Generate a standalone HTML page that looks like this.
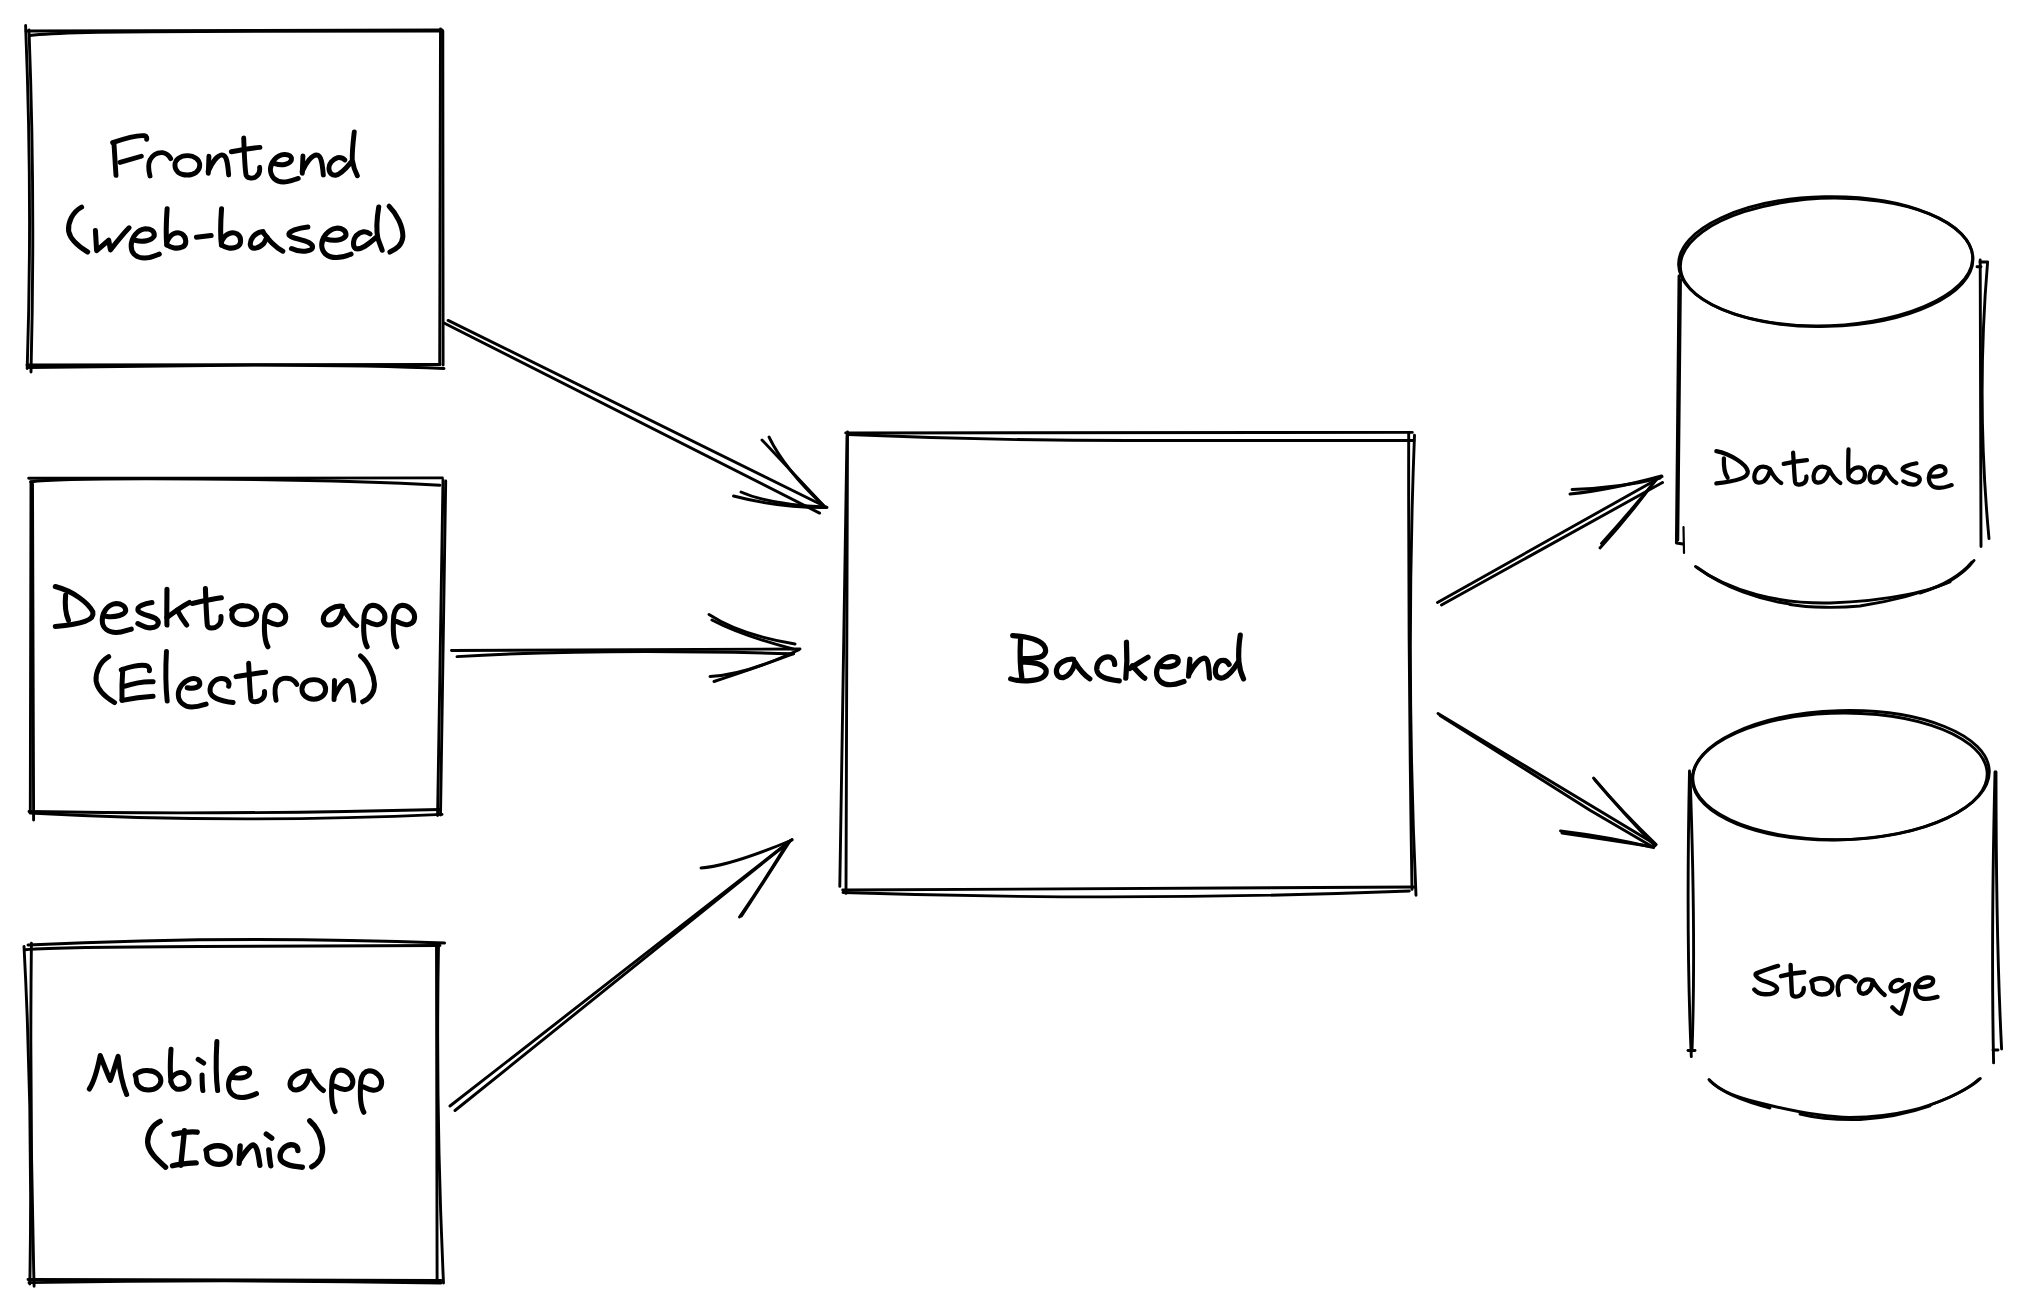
<!DOCTYPE html>
<html><head><meta charset="utf-8"><title>Architecture</title>
<style>
html,body{margin:0;padding:0;background:#fff;}
body{width:2026px;height:1311px;overflow:hidden;font-family:"Liberation Sans",sans-serif;}
svg{display:block;}
</style></head><body>
<svg width="2026" height="1311" viewBox="0 0 2026 1311">
<rect width="2026" height="1311" fill="#fff"/>
<g fill="none" stroke="#000" stroke-linecap="round" stroke-linejoin="round">
<path d="M26 31 L442 30" stroke-width="2.9"/>
<path d="M30 35.5 Q60 31.5 200 31.5 L440 31" stroke-width="2.9"/>
<path d="M25.6 25.5 Q32.6 200 27.2 368.5" stroke-width="2.9"/>
<path d="M29 30 Q35.4 200 31 372" stroke-width="2.9"/>
<path d="M440.5 29 L439.7 364.4" stroke-width="2.9"/>
<path d="M442.8 31 L443.1 365" stroke-width="2.9"/>
<path d="M27 365 L440 364.5" stroke-width="2.9"/>
<path d="M29 367.5 Q120 366 255 365 Q380 365.5 444 368.5" stroke-width="2.9"/>
<path d="M28.7 478.3 L442.4 477.9" stroke-width="2.9"/>
<path d="M30.6 481.8 Q60 478 200 479 Q350 480 440 485.2" stroke-width="2.9"/>
<path d="M31 482 L30.3 812" stroke-width="2.9"/>
<path d="M32.5 484 L33.6 820" stroke-width="2.9"/>
<path d="M443 480 L437.6 815.6" stroke-width="2.9"/>
<path d="M445.7 481 L440.5 815" stroke-width="2.9"/>
<path d="M29 811.5 Q220 815 440 809.5" stroke-width="2.9"/>
<path d="M30 813 Q230 824 442 814.4" stroke-width="2.9"/>
<path d="M28 945 Q230 935 444.6 943" stroke-width="2.9"/>
<path d="M25 949.7 Q60 947 200 946.5 L440 945.5" stroke-width="2.9"/>
<path d="M24 946.4 Q33 1115 29.8 1284" stroke-width="2.9"/>
<path d="M31.4 943.3 Q29.5 1115 34.1 1286.2" stroke-width="2.9"/>
<path d="M436.5 945 L437.1 1279" stroke-width="2.9"/>
<path d="M438.5 945 Q435.5 1110 443.5 1283" stroke-width="2.9"/>
<path d="M28 1279.5 L441 1280.5" stroke-width="2.9"/>
<path d="M29 1282.6 Q235 1279 441 1283" stroke-width="2.9"/>
<path d="M845.7 433 L1412.3 432.4" stroke-width="2.9"/>
<path d="M848 434.5 Q1000 441 1150 440.5 L1414 440.5" stroke-width="2.9"/>
<path d="M847.5 432 L846 893.4" stroke-width="2.9"/>
<path d="M847 436 L839.8 886.4" stroke-width="2.9"/>
<path d="M1408.7 433 Q1408.25 661 1412 889.4" stroke-width="2.9"/>
<path d="M1414.5 435.1 Q1405.5 665 1416 895.2" stroke-width="2.9"/>
<path d="M842.7 890 L1415 887" stroke-width="2.9"/>
<path d="M843 892.5 Q1130 902 1409.3 891" stroke-width="2.9"/>
<path d="M1973.0 258.5C1973.3 275.7 1958.2 292.5 1930.8 305.2C1903.5 318.0 1866.2 325.6 1827.2 326.4C1788.1 327.2 1750.6 321.2 1722.7 309.6C1694.8 298.0 1679.0 281.9 1678.6 264.7C1678.3 247.5 1693.4 230.7 1720.8 218.0C1748.1 205.2 1785.4 197.6 1824.4 196.8C1863.5 196.0 1901.0 202.0 1928.9 213.6C1956.8 225.2 1972.6 241.3 1973.0 258.5" stroke-width="2.9"/>
<path d="M1762.7 206.6C1799.1 197.8 1841.1 195.9 1878.9 201.1C1916.6 206.4 1946.7 218.3 1961.9 234.2C1977.1 250.1 1976.1 268.4 1959.2 284.9C1942.3 301.3 1910.9 314.5 1872.6 321.1C1834.2 327.7 1792.3 327.3 1756.8 319.9C1721.2 312.5 1695.3 298.8 1685.1 282.1C1674.9 265.3 1681.4 247.0 1702.9 231.5C1724.5 216.0 1759.3 204.7 1798.9 200.3" stroke-width="2.9"/>
<path d="M1679 276 L1676.4 543 L1683 544" stroke-width="2.9"/>
<path d="M1680.5 280 L1677.8 540" stroke-width="2.9"/>
<path d="M1683.5 527 L1684 553" stroke-width="2.2"/>
<path d="M1980.2 260 L1981 546.6" stroke-width="2.9"/>
<path d="M1977 266.7 L1981 266.7 M1980 262 L1987.6 262 Q1976 400 1989 538.6" stroke-width="2.9"/>
<path d="M1695.5 566.5 C1730 592 1780 604 1830 603 C1890 601 1935 590 1950 581 C1962 574 1970 566 1974 560.5" stroke-width="2.9"/>
<path d="M1790 604.5 C1810 608 1840 608 1860 606 C1900 600 1930 590 1950 582" stroke-width="2.9"/>
<path d="M1697 567.5 C1725 588 1760 600 1790 604" stroke-width="2.9"/>
<path d="M1920 593 C1945 585 1962 574 1972 562" stroke-width="2.9"/>
<path d="M1989.3 770.9C1989.8 788.0 1974.7 804.9 1947.2 817.8C1919.7 830.8 1882.1 838.7 1842.7 839.9C1803.3 841.0 1765.3 835.4 1737.1 824.1C1708.9 812.8 1692.8 796.8 1692.3 779.7C1691.8 762.6 1706.9 745.7 1734.4 732.8C1761.9 719.8 1799.5 711.9 1838.9 710.7C1878.3 709.6 1916.3 715.2 1944.5 726.5C1972.7 737.8 1988.8 753.8 1989.3 770.9" stroke-width="2.9"/>
<path d="M1694.9 767.8C1701.7 750.2 1725.4 734.4 1760.0 724.3C1794.6 714.2 1837.1 710.6 1877.0 714.5C1917.0 718.4 1950.7 729.4 1970.0 744.7C1989.4 760.1 1992.5 778.5 1978.7 795.4C1964.9 812.3 1935.3 826.2 1897.3 833.6C1859.3 841.0 1816.3 841.4 1778.8 834.6C1741.3 827.7 1712.7 814.3 1700.0 797.7C1687.3 781.0 1691.6 762.5 1712.0 746.8" stroke-width="2.9"/>
<path d="M1689.5 771 Q1686 940 1691.3 1056.6" stroke-width="2.9"/>
<path d="M1690 774 Q1696 940 1692 1051" stroke-width="2.9"/>
<path d="M1688 1050.5 L1695 1050.5" stroke-width="2.9"/>
<path d="M1995 772 Q1991 940 1993.6 1062.9" stroke-width="2.9"/>
<path d="M1996 772 Q1996 940 2001.6 1049" stroke-width="2.9"/>
<path d="M1993 1050 L1998 1050" stroke-width="2.9"/>
<path d="M1709 1079.5 C1720 1092 1740 1098 1760 1103 C1800 1113 1830 1117 1850 1117.5 C1900 1117 1930 1106 1950 1097 C1965 1090 1975 1084 1980.3 1078.5" stroke-width="2.9"/>
<path d="M1800 1114 C1820 1119 1840 1120 1860 1119.5 C1890 1118 1910 1113 1930 1106" stroke-width="2.9"/>
<path d="M1710 1081 C1725 1095 1750 1103 1770 1108" stroke-width="2.9"/>
<path d="M1930 1105 C1950 1098 1968 1089 1979 1079" stroke-width="2.9"/>
<path d="M448.1 320.4L822 505" stroke-width="2.9"/>
<path d="M443.5 322.8L819.6 513.1" stroke-width="2.9"/>
<path d="M762 440Q790 470 824 506" stroke-width="2.9"/>
<path d="M769 437Q785 470 825 507" stroke-width="2.9"/>
<path d="M733.5 496Q780 508 827 507.5" stroke-width="2.9"/>
<path d="M741 492Q770 505 826 507" stroke-width="2.9"/>
<path d="M451.5 650.5L800 649" stroke-width="2.9"/>
<path d="M457 656.6 Q600 648 793.7 653.8" stroke-width="2.9"/>
<path d="M709 614.5Q740 635 795 644" stroke-width="2.9"/>
<path d="M712 620Q740 635 793 649" stroke-width="2.9"/>
<path d="M710 676.5Q745 675 798.5 650" stroke-width="2.9"/>
<path d="M714 681.5Q750 670 793 654" stroke-width="2.9"/>
<path d="M450 1106L792 839.5" stroke-width="2.9"/>
<path d="M455 1110.5L789 842" stroke-width="2.9"/>
<path d="M701 868Q730 866 792 840" stroke-width="2.9"/>
<path d="M739.5 917Q765 880 788 842" stroke-width="2.9"/>
<path d="M741.5 916Q765 880 790 841" stroke-width="2.9"/>
<path d="M1437.5 602.5L1662 476.5" stroke-width="2.9"/>
<path d="M1441.5 605L1662.5 482.5" stroke-width="2.9"/>
<path d="M1570 494Q1610 490 1661.5 476" stroke-width="2.9"/>
<path d="M1572 489.5Q1620 488 1660 478" stroke-width="2.9"/>
<path d="M1600 548Q1630 515 1655 481" stroke-width="2.9"/>
<path d="M1601.5 543.5Q1630 512 1656 480" stroke-width="2.9"/>
<path d="M1438 713.5L1654 843.5" stroke-width="2.9"/>
<path d="M1440 715.5 L1590 810.3 L1652 846.5" stroke-width="2.9"/>
<path d="M1593.5 778Q1622 812 1656.2 844.5" stroke-width="2.9"/>
<path d="M1595 780Q1625 815 1655 846" stroke-width="2.9"/>
<path d="M1560.5 831Q1610 837 1653.6 847.7" stroke-width="2.9"/>
<path d="M1562 833Q1610 840 1651 846.5" stroke-width="2.9"/>
</g>
<g fill="none" stroke="#000" stroke-linecap="round" stroke-linejoin="round">
<g transform="translate(100 120) scale(0.13333)" stroke-width="36.7">
<path d="M105 180 C110 250 115 350 120 415"/>
<path d="M95 170 C180 140 280 112 335 118 C350 120 352 135 350 145"/>
<path d="M150 318 L310 272"/>
<path d="M375 420 C365 380 360 330 375 300 C395 262 430 242 470 245 C500 250 520 270 530 290"/>
<path d="M655 267 C710 267 748 300 748 340 C748 385 705 413 655 413 C600 413 562 385 562 340 C562 300 600 267 655 267"/>
<path d="M817 272 L812 400"/>
<path d="M812 385 C840 320 880 265 915 262 C950 262 958 320 965 412"/>
<path d="M1078 135 C1082 250 1085 350 1095 410 C1100 435 1140 445 1170 425 C1195 410 1200 380 1197 355"/>
<path d="M985 238 C1050 225 1130 210 1200 205"/>
<path d="M1312 327 C1360 345 1420 335 1435 302 C1442 272 1415 258 1383 259 C1320 262 1280 320 1278 368 C1278 430 1320 465 1375 465 C1420 465 1460 445 1487 438"/>
<path d="M1522 270 L1517 400"/>
<path d="M1517 385 C1545 320 1590 262 1625 262 C1660 262 1668 330 1675 412"/>
<path d="M1837 300 C1820 283 1800 280 1783 282 C1740 295 1717 330 1717 360 C1717 400 1740 415 1767 414 C1800 410 1840 370 1882 318"/>
<path d="M1907 90 C1900 150 1890 230 1892 300 C1900 350 1915 390 1930 418"/>
</g>
<g transform="translate(60 195) scale(0.17274)" stroke-width="29.2">
<path d="M125 70 C70 100 45 160 50 210 C60 260 110 300 160 330"/>
<path d="M205 205 L212 322 L282 262 L292 318 C330 270 370 220 400 190"/>
<path d="M435 262 C480 275 530 265 545 238 C550 210 525 195 495 195 C445 200 412 250 412 295 C412 340 445 365 490 365 C525 365 555 350 575 342"/>
<path d="M620 80 C615 150 612 220 618 290"/>
<path d="M620 270 C640 220 680 210 705 225 C735 245 735 290 710 300 C680 315 640 305 620 290"/>
<path d="M790 245 L875 235"/>
<path d="M935 80 C930 150 925 220 935 290"/>
<path d="M935 270 C955 220 1000 210 1025 225 C1055 245 1050 290 1025 300 C995 315 955 305 935 290"/>
<path d="M1175 212 C1125 215 1098 260 1102 290 C1110 320 1150 310 1180 280 L1198 245"/>
<path d="M1175 215 C1210 260 1240 300 1290 325"/>
<path d="M1435 185 C1380 190 1320 210 1325 230 C1330 250 1400 255 1440 275 C1475 295 1470 320 1420 325 C1390 328 1360 320 1340 310"/>
<path d="M1540 255 C1590 270 1640 260 1655 235 C1660 205 1630 190 1600 192 C1550 198 1515 250 1515 290 C1515 335 1550 362 1600 362 C1640 362 1665 350 1685 342"/>
<path d="M1795 225 C1770 205 1740 210 1715 235 C1700 255 1690 290 1710 310 C1740 320 1780 290 1830 245"/>
<path d="M1845 70 C1835 130 1830 200 1840 250 C1850 280 1860 305 1865 320"/>
<path d="M1905 65 C1950 110 1985 180 1985 240 C1980 290 1950 310 1910 330"/>
</g>
<g transform="translate(45 580) scale(0.18762)" stroke-width="27.0">
<path d="M110 80 C105 130 110 180 125 215"/>
<path d="M55 35 C150 60 230 120 255 170 C265 215 200 235 55 248"/>
<path d="M330 195 C380 200 425 185 430 165 C432 140 405 125 380 125 C330 130 305 175 305 215 C305 260 340 280 380 280 C415 280 440 265 460 262"/>
<path d="M570 120 C530 125 490 140 495 160 C500 180 560 190 590 205 C615 225 605 250 565 255 C535 255 510 240 495 232"/>
<path d="M650 50 C650 120 648 190 650 240"/>
<path d="M650 200 C690 170 730 140 770 120"/>
<path d="M705 160 C720 190 740 220 755 240"/>
<path d="M855 45 C858 120 860 190 865 240 C870 260 900 260 920 245 C935 235 940 215 938 195"/>
<path d="M785 125 C830 115 900 100 940 95"/>
<path d="M995 160 C1020 140 1040 135 1062 137 C1100 137 1128 160 1128 188 C1128 215 1100 238 1062 238 C1020 238 996 215 996 188 C996 175 1000 165 1008 158"/>
<path d="M1188 356 C1165 315 1168 240 1172 190 C1178 155 1195 137 1217 135 C1250 135 1282 165 1283 196 C1283 228 1260 240 1238 238 C1215 236 1195 225 1185 220"/>
<path d="M1585 140 C1540 135 1495 165 1485 195 C1478 225 1495 242 1517 240 C1550 238 1575 210 1588 160"/>
<path d="M1590 155 C1610 190 1630 225 1661 243"/>
<path d="M 1717 356 C 1694 315 1697 240 1701 190 C 1707 155 1724 137 1746 135 C 1779 135 1811 165 1812 196 C 1812 228 1789 240 1767 238 C 1744 236 1724 225 1714 220"/>
<path d="M 1875 356 C 1852 315 1855 240 1859 190 C 1865 155 1882 137 1904 135 C 1937 135 1969 165 1970 196 C 1970 228 1947 240 1925 238 C 1902 236 1882 225 1872 220"/>
</g>
<g transform="translate(85 650) scale(0.14808)" stroke-width="33.5">
<path d="M160 45 C100 80 70 150 75 210 C85 270 140 320 200 355"/>
<path d="M255 130 C250 200 248 280 250 340"/>
<path d="M245 135 C300 110 370 100 410 105 C430 108 438 125 435 140"/>
<path d="M265 245 C330 225 400 210 460 215"/>
<path d="M250 340 C320 325 400 315 460 312"/>
<path d="M550 10 C545 100 545 250 555 345"/>
<path d="M690 255 C740 265 780 250 775 220 C770 195 740 190 715 195 C660 210 630 260 630 300 C630 350 670 385 720 385 C770 385 800 370 818 365"/>
<path d="M970 245 C980 220 960 190 920 192 C870 195 840 240 845 280 C850 320 900 340 1000 355"/>
<path d="M1105 90 C1110 180 1112 260 1120 330 C1125 355 1160 355 1190 335 C1210 320 1215 300 1212 280"/>
<path d="M1020 180 C1080 170 1160 155 1220 150"/>
<path d="M1290 340 C1280 290 1280 240 1300 215 C1320 190 1360 185 1390 195 C1410 205 1425 220 1430 232"/>
<path d="M1545 200 C1595 200 1625 230 1625 265 C1625 300 1595 332 1545 332 C1495 332 1465 300 1465 265 C1465 230 1495 200 1545 200"/>
<path d="M1685 205 L1682 335"/>
<path d="M1685 310 C1710 260 1740 210 1770 205 C1800 205 1808 260 1815 340"/>
<path d="M1860 40 C1910 80 1950 160 1955 230 C1955 290 1920 330 1875 350"/>
</g>
<g transform="translate(80 1040) scale(0.15552)" stroke-width="32.4">
<path d="M60 315 C90 270 110 200 130 100 C150 150 180 230 195 260 C210 220 230 150 245 105 C255 200 270 280 300 350"/>
<path d="M355 225 C380 200 410 195 440 197 C490 198 520 230 520 260 C520 295 485 322 440 322 C395 322 362 295 362 260 C362 245 358 235 355 225"/>
<path d="M585 60 C580 130 578 200 585 270"/>
<path d="M590 240 C610 215 640 205 660 210 C690 220 705 250 700 280 C690 310 650 322 620 315 C600 305 590 290 585 270"/>
<path d="M760 125 L795 148"/>
<path d="M785 225 C785 260 785 295 790 325"/>
<path d="M880 10 C875 100 875 250 885 325"/>
<path d="M975 240 C1020 250 1080 245 1090 215 C1095 190 1070 180 1045 182 C990 190 955 240 955 290 C955 340 990 370 1040 370 C1080 370 1110 355 1135 345"/>
<path d="M 1473.3 200.7 C 1419.0 194.7 1364.7 230.9 1352.7 267.1 C 1344.2 303.3 1364.7 323.8 1391.3 321.4 C 1431.1 319.0 1461.3 285.2 1476.9 224.9"/>
<path d="M 1479.3 218.8 C 1503.5 261.1 1527.6 303.3 1565.0 325.0"/>
<path d="M 1640.0 460.0 C 1612.3 410.5 1615.9 320.1 1620.7 259.7 C 1627.9 217.5 1648.4 195.8 1675.0 193.4 C 1714.8 193.4 1753.4 229.6 1754.6 267.0 C 1754.6 305.6 1726.9 320.1 1700.3 317.6 C 1672.6 315.2 1648.4 302.0 1636.4 295.9"/>
<path d="M 1825.0 465.0 C 1797.3 415.5 1800.9 325.1 1805.7 264.7 C 1812.9 222.5 1833.4 200.8 1860.0 198.4 C 1899.8 198.4 1938.4 234.6 1939.6 272.0 C 1939.6 310.6 1911.9 325.1 1885.3 322.6 C 1857.6 320.2 1833.4 307.0 1821.4 300.9"/>
</g>
<g transform="translate(135 1110) scale(0.09872)" stroke-width="54.0">
<path d="M255 115 C180 150 130 230 128 320 C130 420 220 500 310 580"/>
<path d="M395 245 C470 230 550 215 630 225"/>
<path d="M500 210 C490 330 475 440 465 560"/>
<path d="M380 565 C450 545 540 540 620 535"/>
<path d="M720 405 C760 370 800 360 845 362 C920 365 965 410 965 460 C965 515 915 550 850 550 C780 550 728 515 728 460 C728 440 724 420 720 405"/>
<path d="M1065 365 L1055 540"/>
<path d="M1060 510 C1100 450 1150 370 1190 355 C1230 350 1245 420 1265 560"/>
<path d="M1330 245 L1385 285"/>
<path d="M1355 405 C1360 460 1365 520 1375 565"/>
<path d="M1650 410 C1650 370 1620 350 1580 352 C1510 360 1465 420 1470 480 C1480 550 1580 570 1695 580"/>
<path d="M1770 110 C1840 170 1890 270 1900 380 C1905 470 1860 540 1790 575"/>
</g>
<g transform="translate(995 620) scale(0.13080)" stroke-width="40.0">
<path d="M195 150 C190 250 190 350 205 440"/>
<path d="M135 120 C220 125 320 140 370 190 C400 230 390 270 340 285 C300 295 250 295 220 295"/>
<path d="M220 322 C300 320 370 340 390 380 C400 430 350 460 250 465 C200 468 150 460 120 450"/>
<path d="M600 300 C540 295 480 330 470 380 C465 420 490 445 525 440 C560 430 590 400 610 335"/>
<path d="M610 320 C640 370 680 420 725 450"/>
<path d="M915 340 C915 300 890 280 860 282 C810 285 775 330 778 380 C785 440 870 455 950 465"/>
<path d="M1005 170 C1010 250 1010 350 1000 445"/>
<path d="M1030 370 C1080 340 1120 315 1170 285"/>
<path d="M1050 350 C1080 380 1110 420 1145 445"/>
<path d="M1275 355 C1330 365 1390 350 1400 320 C1405 290 1380 278 1350 280 C1280 285 1235 350 1235 400 C1235 460 1280 495 1340 495 C1390 495 1420 478 1445 470"/>
<path d="M1490 300 L1480 430"/>
<path d="M1485 410 C1520 350 1560 295 1600 292 C1630 292 1635 360 1640 445"/>
<path d="M1790 340 C1775 310 1750 305 1730 310 C1700 320 1680 360 1685 400 C1690 440 1720 450 1750 440 C1790 425 1830 370 1860 320"/>
<path d="M1875 115 C1865 180 1860 260 1865 320 C1870 370 1885 420 1900 450"/>
</g>
<g transform="translate(1705 440) scale(0.12587)" stroke-width="33.5">
<path d="M150 145 C148 200 150 260 180 300"/>
<path d="M90 88 C200 110 330 190 340 250 C345 300 260 325 90 345"/>
<path d="M515 230 C490 212 460 210 440 215 C400 230 385 280 395 315 C405 345 440 345 470 325 C495 305 510 270 518 235 C540 280 570 320 605 342"/>
<path d="M700 100 C705 180 708 260 715 330 C720 360 760 362 790 340 C805 325 808 305 805 290"/>
<path d="M625 190 C690 175 760 165 810 160"/>
<path d="M 985.0 230.0 C 960.0 212.0 930.0 210.0 910.0 215.0 C 870.0 230.0 855.0 280.0 865.0 315.0 C 875.0 345.0 910.0 345.0 940.0 325.0 C 965.0 305.0 980.0 270.0 988.0 235.0 C 1010.0 280.0 1040.0 320.0 1075.0 342.0"/>
<path d="M1140 75 C1138 150 1135 230 1140 300"/>
<path d="M1145 265 C1170 225 1210 210 1240 220 C1275 235 1280 290 1255 320 C1230 345 1180 345 1145 310"/>
<path d="M 1430.0 230.0 C 1405.0 212.0 1375.0 210.0 1355.0 215.0 C 1315.0 230.0 1300.0 280.0 1310.0 315.0 C 1320.0 345.0 1355.0 345.0 1385.0 325.0 C 1410.0 305.0 1425.0 270.0 1433.0 235.0 C 1455.0 280.0 1485.0 320.0 1520.0 342.0"/>
<path d="M1680 185 C1620 195 1565 215 1570 235 C1580 260 1660 270 1695 290 C1720 315 1700 350 1660 355 C1620 358 1590 340 1575 330"/>
<path d="M1800 290 C1850 295 1905 280 1910 255 C1915 220 1890 205 1860 207 C1810 215 1778 260 1778 300 C1778 350 1810 380 1860 380 C1910 380 1935 365 1960 358"/>
</g>
<g transform="translate(1745 955) scale(0.09872)" stroke-width="44.3">
<path d="M335 110 C260 130 170 165 115 185 C95 200 120 230 160 250 C230 280 320 300 325 340 C325 385 260 400 200 398 C150 395 115 375 95 350"/>
<path d="M462 100 C465 200 470 300 475 390 C480 430 530 430 565 405 C590 385 598 360 595 335"/>
<path d="M365 215 C440 195 520 180 600 175"/>
<path d="M672 268 C700 245 730 235 770 235 C840 235 885 275 885 320 C885 370 840 400 780 400 C720 400 685 370 685 320 C685 300 680 285 672 268"/>
<path d="M950 405 C935 350 935 290 960 255 C980 225 1020 215 1050 218 C1080 222 1105 245 1120 265"/>
<path d="M1295 258 C1260 245 1230 245 1210 252 C1160 275 1140 330 1160 370 C1180 405 1230 395 1260 360 C1280 335 1290 300 1295 262 C1330 320 1370 370 1415 405"/>
<path d="M1590 262 C1560 245 1530 250 1500 275 C1470 300 1465 340 1490 360 C1520 380 1570 360 1600 330 C1620 310 1640 300 1660 295"/>
<path d="M1662 298 C1640 400 1615 500 1580 595 C1560 600 1530 570 1492 530"/>
<path d="M1760 320 C1820 335 1900 310 1905 270 C1910 235 1880 225 1845 228 C1780 235 1725 290 1725 345 C1725 410 1770 445 1830 445 C1880 445 1920 430 1950 425"/>
</g>
</g>
</svg>
</body></html>
